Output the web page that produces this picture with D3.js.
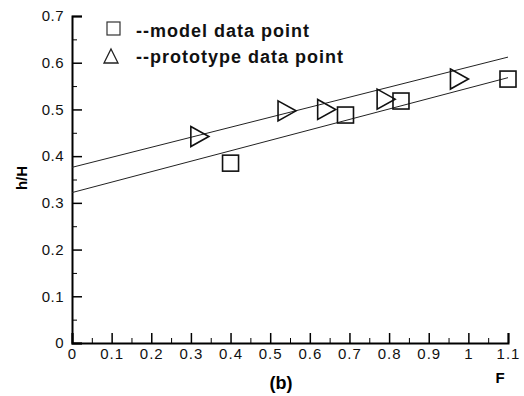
<!DOCTYPE html>
<html>
<head>
<meta charset="utf-8">
<script src="https://cdn.jsdelivr.net/npm/d3@7"></script>
<style>
  body { margin: 0; background: #fff; }
  svg { font-family: "Liberation Sans", Arial, sans-serif; }
</style>
</head>
<body>
<svg id="chart" width="524" height="396"></svg>
<script>
// data
const modelF = [0.40, 0.69, 0.83, 1.10];
const modelH = [0.385, 0.488, 0.518, 0.565];
const protoF = [0.32, 0.54, 0.64, 0.79, 0.975];
const protoH = [0.442, 0.497, 0.500, 0.522, 0.565];
// fitted lines, value at F = 0 and F = 1.1
const lineF = [0, 1.1];
const upperLine = [0.376, 0.612];
const lowerLine = [0.322, 0.568];
const xTicks = [0, 0.1, 0.2, 0.3, 0.4, 0.5, 0.6, 0.7, 0.8, 0.9, 1, 1.1];
const yTicks = [0, 0.1, 0.2, 0.3, 0.4, 0.5, 0.6, 0.7];

const svg = d3.select('#chart');

const x = d3.scaleLinear().domain([0, 1.1]).range([72, 508]);
const y = d3.scaleLinear().domain([0, 0.7]).range([343, 16]);

// x axis, ticks pointing up into the plot
const xMinor = d3.range(0.05, 1.1, 0.1);
svg.append('g')
  .attr('transform', `translate(0,${y(0)})`)
  .call(d3.axisTop(x).tickValues(xMinor).tickSize(5).tickFormat(''))
  .call(g => g.select('.domain').remove());
const xAxis = svg.append('g')
  .attr('transform', `translate(0,${y(0)})`)
  .call(d3.axisTop(x).tickValues(xTicks).tickSize(10).tickFormat(d3.format('')));
xAxis.select('.domain').attr('stroke-width', 2);
xAxis.selectAll('.tick line').attr('stroke-width', 1.5);
xAxis.selectAll('.tick text')
  .attr('y', 5)
  .attr('dy', '0.71em')
  .attr('font-size', 15)
  .attr('letter-spacing', 1)
  .attr('fill', '#111');

// y axis, ticks pointing right
const yMinor = d3.range(0.05, 0.7, 0.1);
svg.append('g')
  .attr('transform', `translate(${x(0)},0)`)
  .call(d3.axisRight(y).tickValues(yMinor).tickSize(5).tickFormat(''))
  .call(g => g.select('.domain').remove());
const yAxis = svg.append('g')
  .attr('transform', `translate(${x(0)},0)`)
  .call(d3.axisRight(y).tickValues(yTicks).tickSize(10).tickFormat(d3.format('')));
yAxis.select('.domain').attr('stroke-width', 2);
yAxis.selectAll('.tick line').attr('stroke-width', 1.5);
yAxis.selectAll('.tick text')
  .attr('x', -8)
  .attr('text-anchor', 'end')
  .attr('font-size', 15)
  .attr('letter-spacing', 0.5)
  .attr('fill', '#111');

// fit lines
const line = d3.line().x(d => x(d[0])).y(d => y(d[1]));
[upperLine, lowerLine].forEach(vals => {
  svg.append('path')
    .attr('d', line(lineF.map((f, i) => [f, vals[i]])))
    .attr('fill', 'none')
    .attr('stroke', '#222')
    .attr('stroke-width', 1);
});

// model points (squares)
svg.append('g').selectAll('rect')
  .data(modelF.map((f, i) => [f, modelH[i]]))
  .join('rect')
  .attr('x', d => x(d[0]) - 8)
  .attr('y', d => y(d[1]) - 8)
  .attr('width', 16)
  .attr('height', 16)
  .attr('fill', 'none')
  .attr('stroke', '#111')
  .attr('stroke-width', 1.6);

// prototype points (right-pointing triangles)
svg.append('g').selectAll('path')
  .data(protoF.map((f, i) => [f, protoH[i]]))
  .join('path')
  .attr('d', d => {
    const cx = x(d[0]), cy = y(d[1]);
    return `M${cx - 8},${cy - 10}L${cx + 10},${cy}L${cx - 8},${cy + 10}Z`;
  })
  .attr('fill', 'none')
  .attr('stroke', '#111')
  .attr('stroke-width', 1.6);

// legend
svg.append('rect')
  .attr('x', 107).attr('y', 22)
  .attr('width', 13).attr('height', 13)
  .attr('fill', 'none').attr('stroke', '#333').attr('stroke-width', 1.2);
svg.append('path')
  .attr('d', 'M111,49L118,63L104,63Z')
  .attr('fill', 'none').attr('stroke', '#222').attr('stroke-width', 1.3);
const legendText = ['--model data point', '--prototype data point'];
svg.append('g').selectAll('text')
  .data(legendText)
  .join('text')
  .attr('x', 136)
  .attr('y', (d, i) => 37 + i * 26)
  .attr('font-size', 18)
  .attr('font-weight', 'bold')
  .attr('letter-spacing', 1)
  .attr('fill', '#111')
  .text(d => d);

// axis labels
svg.append('text')
  .attr('transform', 'translate(27,178) rotate(-90)')
  .attr('text-anchor', 'middle')
  .attr('font-size', 15)
  .attr('font-weight', 'bold')
  .text('h/H');
svg.append('text')
  .attr('x', 500).attr('y', 383)
  .attr('text-anchor', 'middle')
  .attr('font-size', 15)
  .attr('font-weight', 'bold')
  .text('F');
svg.append('text')
  .attr('x', 281).attr('y', 389)
  .attr('text-anchor', 'middle')
  .attr('font-size', 18)
  .attr('font-weight', 'bold')
  .text('(b)');
</script>
</body>
</html>
